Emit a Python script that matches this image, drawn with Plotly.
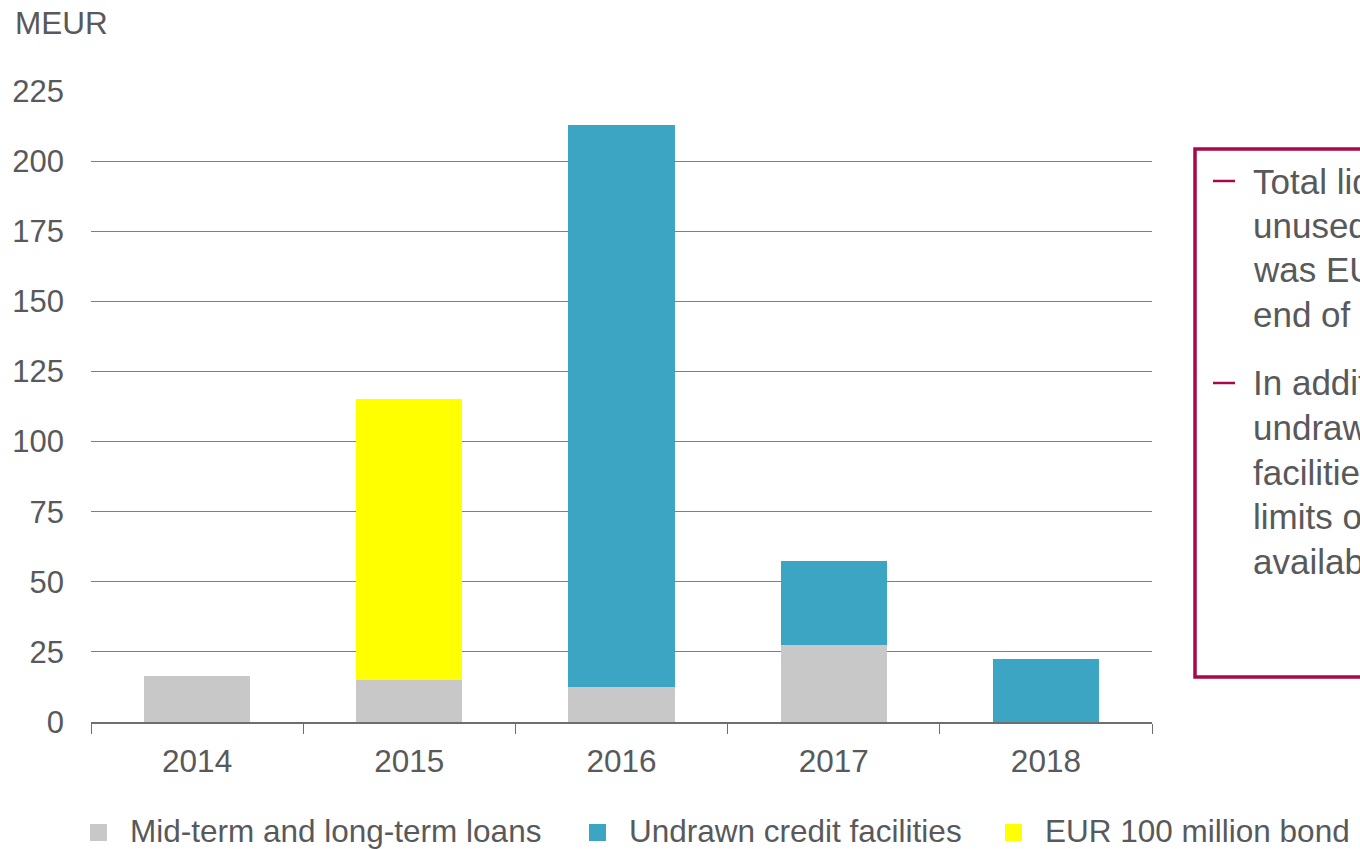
import plotly.graph_objects as go

# Maturity profile of financing, MEUR
years = ["2014", "2015", "2016", "2017", "2018"]
loans = [16.5, 15.0, 12.5, 27.5, 0.0]
credit_facilities = [0.0, 0.0, 200.5, 30.0, 22.5]
bond = [0.0, 100.0, 0.0, 0.0, 0.0]

series_names = ["Mid-term and long-term loans", "Undrawn credit facilities", "EUR 100 million bond"]
series_colors = ["#C8C8C8", "#3DA5C4", "#FFFF00"]
series_values = [loans, credit_facilities, bond]

y_ticks = [0, 25, 50, 75, 100, 125, 150, 175, 200, 225]

bullet_1 = ["Total liquidity including", "unused credit facilities", "was EUR", "end of the year"]
bullet_2 = ["In addition, there are", "undrawn commercial paper", "facilities and overdraft", "limits of", "available"]

W, H = 1360, 849
L, R, T, B = 91, 1152, 91, 722  # plot area in pixels

TEXT = "#58595B"
ACCENT = "#A8084A"
FONT = "Liberation Sans, Arial, sans-serif"


def px_x(p):
    return (p - L) / (R - L)


def px_y(p):
    return (B - p) / (B - T)


fig = go.Figure()
for name, color, vals in zip(series_names, series_colors, series_values):
    fig.add_trace(go.Bar(
        x=years, y=vals, name=name,
        marker=dict(color=color, line=dict(width=0)),
        showlegend=False,
    ))

shapes = []
annotations = []

# unit label
annotations.append(dict(
    xref="paper", yref="paper", x=px_x(13), y=px_y(23),
    xanchor="left", yanchor="middle", text="MEUR", showarrow=False,
    font=dict(size=31.5, color=TEXT, family=FONT),
))

# legend row along the bottom
legend_x = [90, 589, 1005]
for name, color, x0 in zip(series_names, series_colors, legend_x):
    shapes.append(dict(
        type="rect", xref="paper", yref="paper",
        x0=px_x(x0), x1=px_x(x0 + 17), y0=px_y(841), y1=px_y(824),
        fillcolor=color, line=dict(width=0), layer="above",
    ))
    annotations.append(dict(
        xref="paper", yref="paper", x=px_x(x0 + 39), y=px_y(831),
        xanchor="left", yanchor="middle", text=name, showarrow=False,
        font=dict(size=31.5, color=TEXT, family=FONT),
        borderpad=0,
    ))

# commentary box on the right
shapes.append(dict(
    type="rect", xref="paper", yref="paper",
    x0=px_x(1195), x1=px_x(1420), y0=px_y(677), y1=px_y(149),
    fillcolor="rgba(0,0,0,0)", line=dict(color=ACCENT, width=3.5), layer="above",
))


def add_bullet(lines, y_first, step):
    shapes.append(dict(
        type="line", xref="paper", yref="paper",
        x0=px_x(1213), x1=px_x(1235), y0=px_y(y_first), y1=px_y(y_first),
        line=dict(color=ACCENT, width=2.5),
    ))
    for i, line in enumerate(lines):
        annotations.append(dict(
            xref="paper", yref="paper", x=px_x(1251), y=px_y(y_first + i * step),
            xanchor="left", yanchor="middle", text=line, showarrow=False,
            font=dict(size=35, color=TEXT, family=FONT),
        ))


add_bullet(bullet_1, 181, 44.4)
add_bullet(bullet_2, 383, 44.6)

fig.update_layout(
    width=W, height=H,
    margin=dict(l=L, r=W - R, t=T, b=H - B, pad=0),
    barmode="stack",
    bargap=0.5,
    plot_bgcolor="white",
    paper_bgcolor="white",
    font=dict(family=FONT, size=31, color=TEXT),
    shapes=shapes,
    annotations=annotations,
    xaxis=dict(
        type="category",
        tickson="boundaries",
        ticks="outside", ticklen=10, tickwidth=1, tickcolor="#6E6E6E",
        showline=True, linecolor="#6E6E6E", linewidth=1.5,
        showgrid=False,
        ticklabelstandoff=10,
        tickfont=dict(size=31.5, color=TEXT, family=FONT),
    ),
    yaxis=dict(
        range=[0, 225],
        tickvals=y_ticks,
        showgrid=True, gridcolor="#7F7F7F", gridwidth=1,
        zeroline=False,
        showline=False,
        ticks="",
        ticklabelstandoff=26,
        tickfont=dict(size=31, color=TEXT, family=FONT),
    ),
)

fig.write_html("out.html")
